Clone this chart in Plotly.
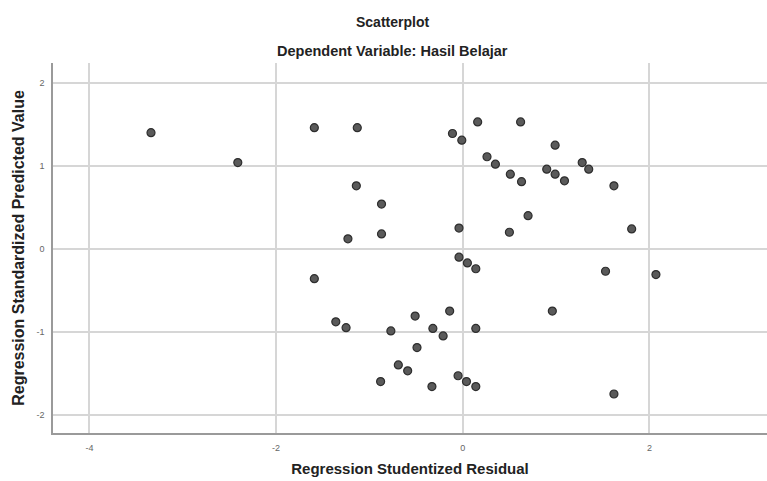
import plotly.graph_objects as go

residual = [-3.34, -2.41, -1.59, -1.13, -1.14, -0.87, -0.87, -1.23, -1.59, -1.36,
            -1.25, -0.77, -0.51, -0.14, -0.32, -0.21, -0.49, -0.69, -0.59, -0.88,
            -0.33, -0.05, 0.04, 0.14, 0.14, -0.11, -0.01, 0.16, 0.26, 0.35,
            -0.04, -0.04, 0.05, 0.14, 0.62, 0.99, 0.51, 0.63, 0.90, 0.99,
            1.09, 1.28, 1.35, 1.62, 0.70, 0.50, 1.81, 1.53, 2.07, 0.96, 1.62]
predicted = [1.40, 1.04, 1.46, 1.46, 0.76, 0.54, 0.18, 0.12, -0.36, -0.88,
             -0.95, -0.99, -0.81, -0.75, -0.96, -1.05, -1.19, -1.40, -1.47, -1.60,
             -1.66, -1.53, -1.60, -1.66, -0.96, 1.39, 1.31, 1.53, 1.11, 1.02,
             0.25, -0.10, -0.17, -0.24, 1.53, 1.25, 0.90, 0.81, 0.96, 0.90,
             0.82, 1.04, 0.96, 0.76, 0.40, 0.20, 0.24, -0.27, -0.31, -0.75, -1.75]

x_ticks = [-4, -2, 0, 2]
y_ticks = [-2, -1, 0, 1, 2]

title_text = "Scatterplot"
subtitle_text = "Dependent Variable: Hasil Belajar"
x_title = "Regression Studentized Residual"
y_title = "Regression Standardized Predicted Value"

FONT = "Liberation Sans, Arial, sans-serif"
W, H = 767, 481
ML, MR, MT, MB = 53, 0, 63, 48
pw = W - ML - MR
ph = H - MT - MB

def px_x(px):
    return (px - ML) / pw

def px_y(py):
    return (H - MB - py) / ph

fig = go.Figure()
fig.add_trace(go.Scatter(
    x=residual, y=predicted, mode="markers",
    marker=dict(size=8, color="#5a5a5a", line=dict(color="#2e2e2e", width=1.2)),
    showlegend=False, hoverinfo="x+y",
))

fig.update_layout(
    width=W, height=H,
    margin=dict(l=ML, r=MR, t=MT, b=MB),
    paper_bgcolor="white", plot_bgcolor="white",
    font=dict(family=FONT, color="#222"),
    annotations=[
        dict(text="<b>" + title_text + "</b>", x=px_x(392), y=px_y(22), xref="paper",
             yref="paper", showarrow=False, font=dict(size=14, family=FONT, color="#222"),
             xanchor="center", yanchor="middle"),
        dict(text="<b>" + subtitle_text + "</b>", x=px_x(392), y=px_y(51), xref="paper",
             yref="paper", showarrow=False, font=dict(size=14.5, family=FONT, color="#222"),
             xanchor="center", yanchor="middle"),
    ],
)

fig.update_xaxes(
    range=[-4.39, 3.26], tickvals=x_ticks, ticktext=[str(v) for v in x_ticks],
    showgrid=True, gridcolor="#d6d6d6", gridwidth=1.5, zeroline=False,
    showline=True, linecolor="#9a9a9a", linewidth=1.5, mirror=False,
    tickfont=dict(size=9, color="#666", family=FONT), ticks="", ticklabelstandoff=5,
    title=dict(text="<b>" + x_title + "</b>", font=dict(size=15, color="#222", family=FONT),
               standoff=12),
)
fig.update_yaxes(
    range=[-2.22, 2.24], tickvals=y_ticks, ticktext=[str(v) for v in y_ticks],
    showgrid=True, gridcolor="#d6d6d6", gridwidth=1.5, zeroline=False,
    showline=True, linecolor="#9a9a9a", linewidth=1.5, mirror=False,
    tickfont=dict(size=9, color="#666", family=FONT), ticks="", ticklabelstandoff=5,
    title=dict(text="<b>" + y_title + "</b>", font=dict(size=16, color="#222", family=FONT),
               standoff=8),
)

fig.write_html("out.html")
